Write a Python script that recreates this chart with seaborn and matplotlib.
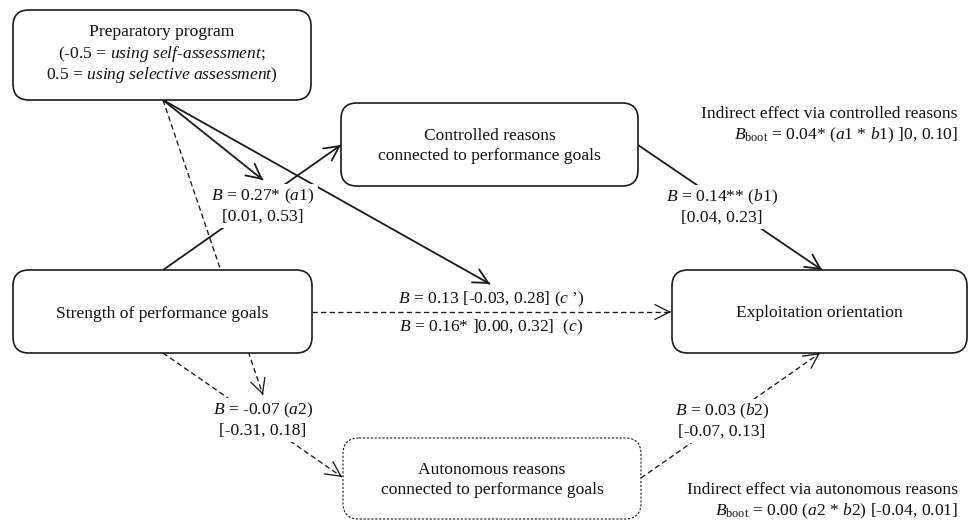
import matplotlib
matplotlib.use("Agg")
import numpy as np
import matplotlib.pyplot as plt
from matplotlib.patches import FancyBboxPatch
import seaborn as sns

sns.set_theme(style="white")
plt.rcParams["font.family"] = ["Liberation Serif", "DejaVu Serif"]
plt.rcParams["mathtext.fontset"] = "custom"
plt.rcParams["mathtext.rm"] = "Liberation Serif"
plt.rcParams["mathtext.it"] = "Liberation Serif:italic"
plt.rcParams["mathtext.bf"] = "Liberation Serif:bold"

# ---- model content -------------------------------------------------------
node_names = ["prep", "controlled", "strength", "exploitation", "autonomous"]
node_lines = [
    ["Preparatory program",
     "(-0.5 = $\\mathit{using\\ self}$-$\\mathit{assessment}$;",
     "0.5 = $\\mathit{using\\ selective\\ assessment}$)"],
    ["Controlled reasons", "connected to performance goals"],
    ["Strength of performance goals"],
    ["Exploitation orientation"],
    ["Autonomous reasons", "connected to performance goals"],
]

path_names = ["a1", "b1", "a2", "b2", "c_prime", "c_total"]
path_lines = [
    ["$B$ = 0.27* ($\\mathit{a1}$)", "[0.01, 0.53]"],
    ["$B$ = 0.14** ($\\mathit{b1}$)", "[0.04, 0.23]"],
    ["$B$ = -0.07 ($\\mathit{a2}$)", "[-0.31, 0.18]"],
    ["$B$ = 0.03 ($\\mathit{b2}$)", "[-0.07, 0.13]"],
    ["$B$ = 0.13 [-0.03, 0.28] ($\\mathit{c}$\u2009\u2019)"],
    ["$B$ = 0.16* ]0.00, 0.32]  ($\\mathit{c}$)"],
]
# labels that sit on top of their path line get a white backing
path_on_line = [True, True, True, True, False, False]

indirect_lines = [
    ["Indirect effect via controlled reasons",
     "$B_{\\mathrm{boot}}$ = 0.04* ($\\mathit{a1}$ * $\\mathit{b1}$) ]0, 0.10]"],
    ["Indirect effect via autonomous reasons",
     "$B_{\\mathrm{boot}}$ = 0.00 ($\\mathit{a2}$ * $\\mathit{b2}$) [-0.04, 0.01]"],
]

# ---- layout (pixel-like canvas units) -----------------------------------
boxes = {
    "prep":         dict(x0=13,  y0=10,  x1=311, y1=100, dashed=False),
    "controlled":   dict(x0=341, y0=103, x1=638, y1=186, dashed=False),
    "strength":     dict(x0=13,  y0=270, x1=312, y1=353, dashed=False),
    "exploitation": dict(x0=672, y0=270, x1=967, y1=353, dashed=False),
    "autonomous":   dict(x0=343, y0=438, x1=641, y1=519, dashed=True),
}
text_y = {"prep": 51, "controlled": 144, "strength": 312,
          "exploitation": 311, "autonomous": 478}
LINE_STEP = 21

# edges: start, end, dashed
edges = [
    ((163, 100), (263, 180), False),   # program -> a1 path (moderation)
    ((163, 100), (490, 284), False),   # program -> c' path (moderation)
    ((163, 100), (263, 395), True),    # program -> a2 path (moderation)
    ((163, 270), (341, 145), False),   # a1
    ((638, 145), (822, 270), False),   # b1
    ((312, 312), (671, 312), True),    # c'
    ((163, 353), (342, 477), True),    # a2
    ((641, 478), (820, 353), True),    # b2
]

label_pos = {
    "a1": (263, 204), "b1": (722, 205), "a2": (263, 418), "b2": (722, 419),
    "c_prime": (491, 297), "c_total": (491, 325),
}
indirect_pos = [(958, 122), (958, 498)]

FS = 12.6
INK = "#111111"
head = "->,head_length=0.75,head_width=0.38"

fig = plt.figure(figsize=(9.7, 5.21), dpi=100)
ax = fig.add_axes([0, 0, 1, 1])
ax.set_xlim(0, 970)
ax.set_ylim(521, 0)
ax.axis("off")

for (p0, p1, dashed) in edges:
    p0 = np.asarray(p0, float)
    p1 = np.asarray(p1, float)
    lw = 0.95 if dashed else 1.3
    ls = (0, (4, 2.5)) if dashed else "-"
    ax.plot([p0[0], p1[0]], [p0[1], p1[1]], color="#1a1a1a", lw=lw,
            linestyle=ls, zorder=1, solid_capstyle="butt")
    # solid open arrowhead at the target end
    d = (p1 - p0) / np.hypot(*(p1 - p0))
    ax.annotate(
        "", xy=tuple(p1), xytext=tuple(p1 - 2 * d),
        arrowprops=dict(arrowstyle=head, color="#1a1a1a", lw=lw,
                        shrinkA=0, shrinkB=0, mutation_scale=14),
        zorder=1,
    )


def put_lines(x, yc, lines, ha="center", bg=False):
    n = len(lines)
    for i, line in enumerate(lines):
        y = yc + (i - (n - 1) / 2) * LINE_STEP
        kw = {}
        if bg:
            kw["bbox"] = dict(boxstyle="square,pad=0.18", fc="white", ec="none")
        ax.text(x, y, line, ha=ha, va="center_baseline", fontsize=FS,
                color=INK, zorder=3, **kw)


for name, lines in zip(node_names, node_lines):
    b = boxes[name]
    patch = FancyBboxPatch(
        (b["x0"], b["y0"]), b["x1"] - b["x0"], b["y1"] - b["y0"],
        boxstyle="round,pad=0,rounding_size=16",
        facecolor="white", edgecolor="#1a1a1a",
        lw=0.8 if b["dashed"] else 1.2,
        linestyle=(0, (2, 1.5)) if b["dashed"] else "-",
        zorder=2,
    )
    ax.add_patch(patch)
    put_lines((b["x0"] + b["x1"]) / 2, text_y[name], lines)

for name, lines, on_line in zip(path_names, path_lines, path_on_line):
    x, y = label_pos[name]
    put_lines(x, y, lines, bg=on_line)

for (x, y), lines in zip(indirect_pos, indirect_lines):
    put_lines(x, y, lines, ha="right")

fig.savefig("out.png", dpi=100, facecolor="white")
